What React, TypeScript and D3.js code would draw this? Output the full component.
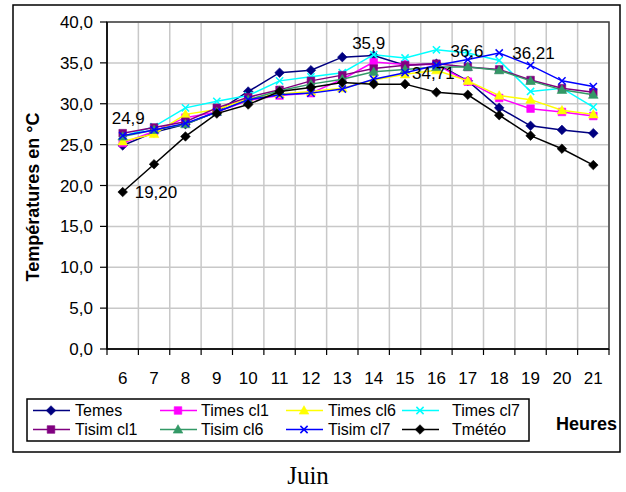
import React from "react";
import * as d3 from "d3";

// Hours of the day (x categories)
const hours = [6, 7, 8, 9, 10, 11, 12, 13, 14, 15, 16, 17, 18, 19, 20, 21];

// Temperatures (°C), one array per series
const temes = [24.9, 26.5, 27.5, 29.0, 31.5, 33.8, 34.1, 35.7, 35.9, 34.71, 34.9, 32.8, 29.5, 27.3, 26.8, 26.4];
const timesCl1 = [25.2, 26.6, 28.3, 29.0, 30.4, 31.0, 31.3, 33.0, 35.1, 34.8, 34.8, 32.7, 30.7, 29.4, 29.0, 28.5];
const timesCl6 = [25.4, 26.3, 28.7, 29.3, 30.6, 31.2, 31.5, 31.9, 32.9, 33.6, 34.1, 32.8, 31.0, 30.5, 29.2, 28.7];
const timesCl7 = [26.0, 27.2, 29.5, 30.3, 31.0, 32.8, 33.3, 33.8, 36.0, 35.6, 36.6, 36.2, 35.3, 31.5, 31.9, 29.6];
const tisimCl1 = [26.4, 27.1, 27.8, 29.5, 30.8, 31.7, 32.8, 33.5, 34.3, 34.7, 34.9, 34.5, 34.2, 32.9, 31.9, 31.4];
const tisimCl6 = [26.0, 26.8, 27.5, 29.0, 30.5, 31.6, 32.4, 33.0, 33.9, 34.2, 34.5, 34.5, 34.1, 32.8, 31.7, 31.1];
const tisimCl7 = [26.1, 26.8, 27.6, 29.0, 30.5, 31.1, 31.3, 31.8, 33.0, 33.8, 34.71, 35.4, 36.21, 34.7, 32.8, 32.1];
const tmeteo = [19.2, 22.6, 26.0, 28.8, 29.9, 31.5, 32.0, 32.6, 32.4, 32.4, 31.4, 31.1, 28.6, 26.1, 24.5, 22.5];

const seriesNames = ["Temes", "Times cl1", "Times cl6", "Times cl7", "Tisim cl1", "Tisim cl6", "Tisim cl7", "Tmétéo"];
const seriesValues = [temes, timesCl1, timesCl6, timesCl7, tisimCl1, tisimCl6, tisimCl7, tmeteo];

const yTicks = [0, 5, 10, 15, 20, 25, 30, 35, 40];

// Point labels: series index, hour, text (value shown)
const labelSeries = [0, 7, 0, 3, 6, 0];
const labelHours = [6, 6, 14, 16, 18, 15];
const labelTexts = ["24,9", "19,20", "35,9", "36,6", "36,21", "34,71"];

// Styling
const colors = ["#000080", "#FF00FF", "#FFFF00", "#00FFFF", "#800080", "#339966", "#0000FF", "#000000"];
const markers = ["diamond", "square", "triangle", "x", "square", "triangle", "x", "diamond"];
const labelOffsets: [number, number, string][] = [
  [-11, -28, "start"],
  [12, 0, "start"],
  [-5, -13, "middle"],
  [14, 1, "start"],
  [13, 0, "start"],
  [7, 8, "start"],
];

const W = 626;
const H = 492;
const plot = { left: 107, right: 609, top: 22, bottom: 349 };
const FONT = "'Liberation Sans', Arial, sans-serif";

function markerPath(kind: string): string {
  const p = d3.path();
  if (kind === "diamond") {
    const r = 4.8;
    p.moveTo(0, -r); p.lineTo(r, 0); p.lineTo(0, r); p.lineTo(-r, 0); p.closePath();
  } else if (kind === "square") {
    const r = 3.8;
    p.rect(-r, -r, 2 * r, 2 * r);
  } else if (kind === "triangle") {
    p.moveTo(0, -4.8); p.lineTo(4.8, 3.6); p.lineTo(-4.8, 3.6); p.closePath();
  } else {
    const r = 3.6;
    p.moveTo(-r, -r); p.lineTo(r, r); p.moveTo(r, -r); p.lineTo(-r, r);
  }
  return p.toString();
}

function Marker({ kind, color, x, y }: { kind: string; color: string; x: number; y: number }) {
  const isX = kind === "x";
  return (
    <path
      d={markerPath(kind)}
      transform={`translate(${x},${y})`}
      fill={isX ? "none" : color}
      stroke={color}
      strokeWidth={isX ? 1.5 : 0.6}
    />
  );
}

export default function App() {
  const x = d3.scaleBand<number>().domain(hours).range([plot.left, plot.right]).padding(0);
  const y = d3.scaleLinear().domain([0, 40]).range([plot.bottom, plot.top]);
  const cx = (h: number) => (x(h) as number) + x.bandwidth() / 2;
  const line = d3
    .line<number>()
    .x((_, i) => cx(hours[i]))
    .y((v) => y(v));

  const boundaries = hours.map((h) => x(h) as number).concat([plot.right]);

  const legendCols = [33, 160, 286, 402];
  const legendTextX = [75, 201, 328, 452];
  const legendRows = [410.5, 429.5];

  return (
    <svg
      width={W}
      height={H}
      style={{ position: "absolute", left: 0, top: 0, background: "#fff" }}
      fontFamily={FONT}
    >
      <rect x={0} y={0} width={W} height={H} fill="#fff" />
      {/* outer chart frame */}
      <rect x={13} y={5} width={607} height={447} fill="none" stroke="#000" strokeWidth={1.5} />

      {/* gridlines */}
      {yTicks.map((t) => (
        <line key={"gy" + t} x1={plot.left} x2={plot.right} y1={y(t)} y2={y(t)} stroke="#c8c8c8" strokeWidth={1.5} />
      ))}
      {boundaries.map((b, i) => (
        <line key={"gx" + i} x1={b} x2={b} y1={plot.top} y2={plot.bottom} stroke="#c8c8c8" strokeWidth={1.5} />
      ))}
      {/* plot border */}
      <rect
        x={plot.left}
        y={plot.top}
        width={plot.right - plot.left}
        height={plot.bottom - plot.top}
        fill="none"
        stroke="#404040"
        strokeWidth={1.5}
      />

      {/* y axis */}
      <line x1={plot.left} x2={plot.left} y1={plot.top} y2={plot.bottom} stroke="#000" strokeWidth={1.5} />
      {yTicks.map((t) => (
        <g key={"ty" + t}>
          <line x1={plot.left - 7} x2={plot.left} y1={y(t)} y2={y(t)} stroke="#000" strokeWidth={1.2} />
          <text x={93} y={y(t)} dy="0.36em" textAnchor="end" fontSize={17} fill="#000">
            {d3.format(".1f")(t).replace(".", ",")}
          </text>
        </g>
      ))}

      {/* x axis */}
      <line x1={plot.left} x2={plot.right} y1={plot.bottom} y2={plot.bottom} stroke="#000" strokeWidth={1.5} />
      {boundaries.map((b, i) => (
        <line key={"tx" + i} x1={b} x2={b} y1={plot.bottom} y2={plot.bottom + 6} stroke="#000" strokeWidth={1.2} />
      ))}
      {hours.map((h) => (
        <text key={"lx" + h} x={cx(h)} y={378} dy="0.36em" textAnchor="middle" fontSize={17} fill="#000">
          {h}
        </text>
      ))}

      {/* axis titles */}
      <text
        transform={`translate(33,197) rotate(-90)`}
        textAnchor="middle"
        dy="0.36em"
        fontSize={18}
        fontWeight="bold"
        fill="#000"
      >
        Températures en °C
      </text>
      <text x={556} y={424} dy="0.36em" fontSize={18} fontWeight="bold" fill="#000">
        Heures
      </text>

      {/* series */}
      {seriesValues.map((vals, si) => (
        <g key={"s" + si}>
          <path d={line(vals) as string} fill="none" stroke={colors[si]} strokeWidth={1.5} />
          {vals.map((v, i) => (
            <Marker key={i} kind={markers[si]} color={colors[si]} x={cx(hours[i])} y={y(v)} />
          ))}
        </g>
      ))}

      {/* point labels */}
      {labelTexts.map((t, i) => {
        const si = labelSeries[i];
        const hi = hours.indexOf(labelHours[i]);
        const [dx, dy, anchor] = labelOffsets[i];
        return (
          <text
            key={"pl" + i}
            x={cx(labelHours[i]) + dx}
            y={y(seriesValues[si][hi]) + dy}
            dy="0.36em"
            textAnchor={anchor}
            fontSize={17}
            fill="#000"
          >
            {t}
          </text>
        );
      })}

      {/* legend */}
      <rect x={27} y={399} width={502} height={42} fill="#fff" stroke="#000" strokeWidth={1.5} />
      {seriesNames.map((name, si) => {
        const col = si % 4;
        const row = Math.floor(si / 4);
        const lx = legendCols[col];
        const ly = legendRows[row];
        return (
          <g key={"lg" + si}>
            <line x1={lx} x2={lx + 37} y1={ly} y2={ly} stroke={colors[si]} strokeWidth={1.5} />
            <Marker kind={markers[si]} color={colors[si]} x={lx + 18} y={ly} />
            <text x={legendTextX[col]} y={ly} dy="0.36em" fontSize={16} fill="#000">
              {name}
            </text>
          </g>
        );
      })}

      {/* caption */}
      <text x={308} y={475} dy="0.36em" textAnchor="middle" fontSize={25} fontFamily="'Liberation Serif', 'Times New Roman', serif" fill="#000">
        Juin
      </text>
    </svg>
  );
}
